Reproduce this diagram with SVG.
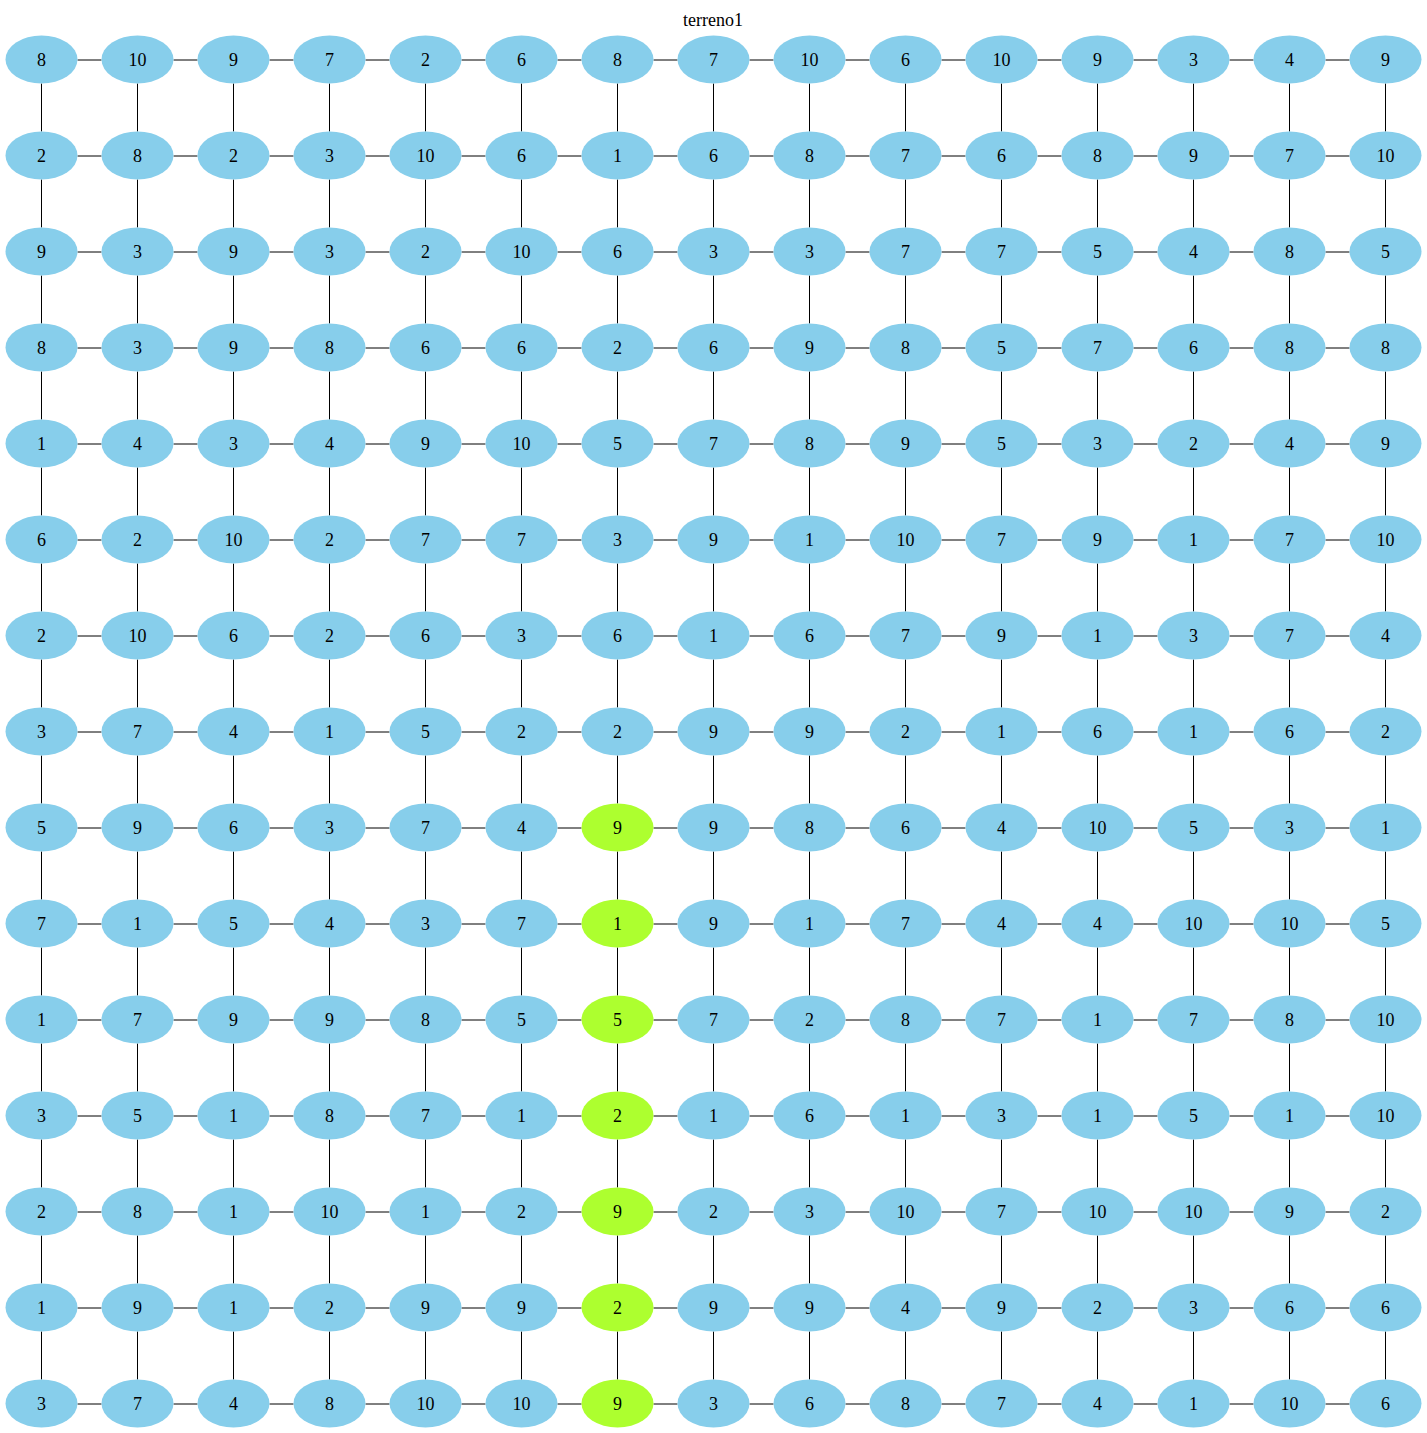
<svg xmlns="http://www.w3.org/2000/svg" width="1427" height="1433" viewBox="0 0 1427 1433">
<style>
.n ellipse{fill:#87CEEB;stroke:none}
.n.g ellipse{fill:#ADFF2F}
text{font-family:"Liberation Serif","Times New Roman",serif;font-size:18px;text-anchor:middle;fill:#000}
.e path{stroke:#000;stroke-width:1;fill:none}
</style>
<rect width="1427" height="1433" fill="#fff"/>
<text id="title" x="713" y="26">terreno1</text>
<g id="edges" class="e">
<path d="M77.5 60h24m72 0h24m72 0h24m72 0h24m72 0h24m72 0h24m72 0h24m72 0h24m72 0h24m72 0h24m72 0h24m72 0h24m72 0h24m72 0h24"/>
<path d="M77.5 156h24m72 0h24m72 0h24m72 0h24m72 0h24m72 0h24m72 0h24m72 0h24m72 0h24m72 0h24m72 0h24m72 0h24m72 0h24m72 0h24"/>
<path d="M77.5 252h24m72 0h24m72 0h24m72 0h24m72 0h24m72 0h24m72 0h24m72 0h24m72 0h24m72 0h24m72 0h24m72 0h24m72 0h24m72 0h24"/>
<path d="M77.5 348h24m72 0h24m72 0h24m72 0h24m72 0h24m72 0h24m72 0h24m72 0h24m72 0h24m72 0h24m72 0h24m72 0h24m72 0h24m72 0h24"/>
<path d="M77.5 444h24m72 0h24m72 0h24m72 0h24m72 0h24m72 0h24m72 0h24m72 0h24m72 0h24m72 0h24m72 0h24m72 0h24m72 0h24m72 0h24"/>
<path d="M77.5 540h24m72 0h24m72 0h24m72 0h24m72 0h24m72 0h24m72 0h24m72 0h24m72 0h24m72 0h24m72 0h24m72 0h24m72 0h24m72 0h24"/>
<path d="M77.5 636h24m72 0h24m72 0h24m72 0h24m72 0h24m72 0h24m72 0h24m72 0h24m72 0h24m72 0h24m72 0h24m72 0h24m72 0h24m72 0h24"/>
<path d="M77.5 732h24m72 0h24m72 0h24m72 0h24m72 0h24m72 0h24m72 0h24m72 0h24m72 0h24m72 0h24m72 0h24m72 0h24m72 0h24m72 0h24"/>
<path d="M77.5 828h24m72 0h24m72 0h24m72 0h24m72 0h24m72 0h24m72 0h24m72 0h24m72 0h24m72 0h24m72 0h24m72 0h24m72 0h24m72 0h24"/>
<path d="M77.5 924h24m72 0h24m72 0h24m72 0h24m72 0h24m72 0h24m72 0h24m72 0h24m72 0h24m72 0h24m72 0h24m72 0h24m72 0h24m72 0h24"/>
<path d="M77.5 1020h24m72 0h24m72 0h24m72 0h24m72 0h24m72 0h24m72 0h24m72 0h24m72 0h24m72 0h24m72 0h24m72 0h24m72 0h24m72 0h24"/>
<path d="M77.5 1116h24m72 0h24m72 0h24m72 0h24m72 0h24m72 0h24m72 0h24m72 0h24m72 0h24m72 0h24m72 0h24m72 0h24m72 0h24m72 0h24"/>
<path d="M77.5 1212h24m72 0h24m72 0h24m72 0h24m72 0h24m72 0h24m72 0h24m72 0h24m72 0h24m72 0h24m72 0h24m72 0h24m72 0h24m72 0h24"/>
<path d="M77.5 1308h24m72 0h24m72 0h24m72 0h24m72 0h24m72 0h24m72 0h24m72 0h24m72 0h24m72 0h24m72 0h24m72 0h24m72 0h24m72 0h24"/>
<path d="M77.5 1404h24m72 0h24m72 0h24m72 0h24m72 0h24m72 0h24m72 0h24m72 0h24m72 0h24m72 0h24m72 0h24m72 0h24m72 0h24m72 0h24"/>
<path d="M41.5 83.5v48m0 48v48m0 48v48m0 48v48m0 48v48m0 48v48m0 48v48m0 48v48m0 48v48m0 48v48m0 48v48m0 48v48m0 48v48m0 48v48"/>
<path d="M137.5 83.5v48m0 48v48m0 48v48m0 48v48m0 48v48m0 48v48m0 48v48m0 48v48m0 48v48m0 48v48m0 48v48m0 48v48m0 48v48m0 48v48"/>
<path d="M233.5 83.5v48m0 48v48m0 48v48m0 48v48m0 48v48m0 48v48m0 48v48m0 48v48m0 48v48m0 48v48m0 48v48m0 48v48m0 48v48m0 48v48"/>
<path d="M329.5 83.5v48m0 48v48m0 48v48m0 48v48m0 48v48m0 48v48m0 48v48m0 48v48m0 48v48m0 48v48m0 48v48m0 48v48m0 48v48m0 48v48"/>
<path d="M425.5 83.5v48m0 48v48m0 48v48m0 48v48m0 48v48m0 48v48m0 48v48m0 48v48m0 48v48m0 48v48m0 48v48m0 48v48m0 48v48m0 48v48"/>
<path d="M521.5 83.5v48m0 48v48m0 48v48m0 48v48m0 48v48m0 48v48m0 48v48m0 48v48m0 48v48m0 48v48m0 48v48m0 48v48m0 48v48m0 48v48"/>
<path d="M617.5 83.5v48m0 48v48m0 48v48m0 48v48m0 48v48m0 48v48m0 48v48m0 48v48m0 48v48m0 48v48m0 48v48m0 48v48m0 48v48m0 48v48"/>
<path d="M713.5 83.5v48m0 48v48m0 48v48m0 48v48m0 48v48m0 48v48m0 48v48m0 48v48m0 48v48m0 48v48m0 48v48m0 48v48m0 48v48m0 48v48"/>
<path d="M809.5 83.5v48m0 48v48m0 48v48m0 48v48m0 48v48m0 48v48m0 48v48m0 48v48m0 48v48m0 48v48m0 48v48m0 48v48m0 48v48m0 48v48"/>
<path d="M905.5 83.5v48m0 48v48m0 48v48m0 48v48m0 48v48m0 48v48m0 48v48m0 48v48m0 48v48m0 48v48m0 48v48m0 48v48m0 48v48m0 48v48"/>
<path d="M1001.5 83.5v48m0 48v48m0 48v48m0 48v48m0 48v48m0 48v48m0 48v48m0 48v48m0 48v48m0 48v48m0 48v48m0 48v48m0 48v48m0 48v48"/>
<path d="M1097.5 83.5v48m0 48v48m0 48v48m0 48v48m0 48v48m0 48v48m0 48v48m0 48v48m0 48v48m0 48v48m0 48v48m0 48v48m0 48v48m0 48v48"/>
<path d="M1193.5 83.5v48m0 48v48m0 48v48m0 48v48m0 48v48m0 48v48m0 48v48m0 48v48m0 48v48m0 48v48m0 48v48m0 48v48m0 48v48m0 48v48"/>
<path d="M1289.5 83.5v48m0 48v48m0 48v48m0 48v48m0 48v48m0 48v48m0 48v48m0 48v48m0 48v48m0 48v48m0 48v48m0 48v48m0 48v48m0 48v48"/>
<path d="M1385.5 83.5v48m0 48v48m0 48v48m0 48v48m0 48v48m0 48v48m0 48v48m0 48v48m0 48v48m0 48v48m0 48v48m0 48v48m0 48v48m0 48v48"/>
</g>
<g id="nodes">
<g id="r0">
<g id="n0_0" class="n" transform="translate(41.5 59.5)"><ellipse rx="36" ry="24"/><text y="6">8</text></g>
<g id="n0_1" class="n" transform="translate(137.5 59.5)"><ellipse rx="36" ry="24"/><text y="6">10</text></g>
<g id="n0_2" class="n" transform="translate(233.5 59.5)"><ellipse rx="36" ry="24"/><text y="6">9</text></g>
<g id="n0_3" class="n" transform="translate(329.5 59.5)"><ellipse rx="36" ry="24"/><text y="6">7</text></g>
<g id="n0_4" class="n" transform="translate(425.5 59.5)"><ellipse rx="36" ry="24"/><text y="6">2</text></g>
<g id="n0_5" class="n" transform="translate(521.5 59.5)"><ellipse rx="36" ry="24"/><text y="6">6</text></g>
<g id="n0_6" class="n" transform="translate(617.5 59.5)"><ellipse rx="36" ry="24"/><text y="6">8</text></g>
<g id="n0_7" class="n" transform="translate(713.5 59.5)"><ellipse rx="36" ry="24"/><text y="6">7</text></g>
<g id="n0_8" class="n" transform="translate(809.5 59.5)"><ellipse rx="36" ry="24"/><text y="6">10</text></g>
<g id="n0_9" class="n" transform="translate(905.5 59.5)"><ellipse rx="36" ry="24"/><text y="6">6</text></g>
<g id="n0_10" class="n" transform="translate(1001.5 59.5)"><ellipse rx="36" ry="24"/><text y="6">10</text></g>
<g id="n0_11" class="n" transform="translate(1097.5 59.5)"><ellipse rx="36" ry="24"/><text y="6">9</text></g>
<g id="n0_12" class="n" transform="translate(1193.5 59.5)"><ellipse rx="36" ry="24"/><text y="6">3</text></g>
<g id="n0_13" class="n" transform="translate(1289.5 59.5)"><ellipse rx="36" ry="24"/><text y="6">4</text></g>
<g id="n0_14" class="n" transform="translate(1385.5 59.5)"><ellipse rx="36" ry="24"/><text y="6">9</text></g>
</g>
<g id="r1">
<g id="n1_0" class="n" transform="translate(41.5 155.5)"><ellipse rx="36" ry="24"/><text y="6">2</text></g>
<g id="n1_1" class="n" transform="translate(137.5 155.5)"><ellipse rx="36" ry="24"/><text y="6">8</text></g>
<g id="n1_2" class="n" transform="translate(233.5 155.5)"><ellipse rx="36" ry="24"/><text y="6">2</text></g>
<g id="n1_3" class="n" transform="translate(329.5 155.5)"><ellipse rx="36" ry="24"/><text y="6">3</text></g>
<g id="n1_4" class="n" transform="translate(425.5 155.5)"><ellipse rx="36" ry="24"/><text y="6">10</text></g>
<g id="n1_5" class="n" transform="translate(521.5 155.5)"><ellipse rx="36" ry="24"/><text y="6">6</text></g>
<g id="n1_6" class="n" transform="translate(617.5 155.5)"><ellipse rx="36" ry="24"/><text y="6">1</text></g>
<g id="n1_7" class="n" transform="translate(713.5 155.5)"><ellipse rx="36" ry="24"/><text y="6">6</text></g>
<g id="n1_8" class="n" transform="translate(809.5 155.5)"><ellipse rx="36" ry="24"/><text y="6">8</text></g>
<g id="n1_9" class="n" transform="translate(905.5 155.5)"><ellipse rx="36" ry="24"/><text y="6">7</text></g>
<g id="n1_10" class="n" transform="translate(1001.5 155.5)"><ellipse rx="36" ry="24"/><text y="6">6</text></g>
<g id="n1_11" class="n" transform="translate(1097.5 155.5)"><ellipse rx="36" ry="24"/><text y="6">8</text></g>
<g id="n1_12" class="n" transform="translate(1193.5 155.5)"><ellipse rx="36" ry="24"/><text y="6">9</text></g>
<g id="n1_13" class="n" transform="translate(1289.5 155.5)"><ellipse rx="36" ry="24"/><text y="6">7</text></g>
<g id="n1_14" class="n" transform="translate(1385.5 155.5)"><ellipse rx="36" ry="24"/><text y="6">10</text></g>
</g>
<g id="r2">
<g id="n2_0" class="n" transform="translate(41.5 251.5)"><ellipse rx="36" ry="24"/><text y="6">9</text></g>
<g id="n2_1" class="n" transform="translate(137.5 251.5)"><ellipse rx="36" ry="24"/><text y="6">3</text></g>
<g id="n2_2" class="n" transform="translate(233.5 251.5)"><ellipse rx="36" ry="24"/><text y="6">9</text></g>
<g id="n2_3" class="n" transform="translate(329.5 251.5)"><ellipse rx="36" ry="24"/><text y="6">3</text></g>
<g id="n2_4" class="n" transform="translate(425.5 251.5)"><ellipse rx="36" ry="24"/><text y="6">2</text></g>
<g id="n2_5" class="n" transform="translate(521.5 251.5)"><ellipse rx="36" ry="24"/><text y="6">10</text></g>
<g id="n2_6" class="n" transform="translate(617.5 251.5)"><ellipse rx="36" ry="24"/><text y="6">6</text></g>
<g id="n2_7" class="n" transform="translate(713.5 251.5)"><ellipse rx="36" ry="24"/><text y="6">3</text></g>
<g id="n2_8" class="n" transform="translate(809.5 251.5)"><ellipse rx="36" ry="24"/><text y="6">3</text></g>
<g id="n2_9" class="n" transform="translate(905.5 251.5)"><ellipse rx="36" ry="24"/><text y="6">7</text></g>
<g id="n2_10" class="n" transform="translate(1001.5 251.5)"><ellipse rx="36" ry="24"/><text y="6">7</text></g>
<g id="n2_11" class="n" transform="translate(1097.5 251.5)"><ellipse rx="36" ry="24"/><text y="6">5</text></g>
<g id="n2_12" class="n" transform="translate(1193.5 251.5)"><ellipse rx="36" ry="24"/><text y="6">4</text></g>
<g id="n2_13" class="n" transform="translate(1289.5 251.5)"><ellipse rx="36" ry="24"/><text y="6">8</text></g>
<g id="n2_14" class="n" transform="translate(1385.5 251.5)"><ellipse rx="36" ry="24"/><text y="6">5</text></g>
</g>
<g id="r3">
<g id="n3_0" class="n" transform="translate(41.5 347.5)"><ellipse rx="36" ry="24"/><text y="6">8</text></g>
<g id="n3_1" class="n" transform="translate(137.5 347.5)"><ellipse rx="36" ry="24"/><text y="6">3</text></g>
<g id="n3_2" class="n" transform="translate(233.5 347.5)"><ellipse rx="36" ry="24"/><text y="6">9</text></g>
<g id="n3_3" class="n" transform="translate(329.5 347.5)"><ellipse rx="36" ry="24"/><text y="6">8</text></g>
<g id="n3_4" class="n" transform="translate(425.5 347.5)"><ellipse rx="36" ry="24"/><text y="6">6</text></g>
<g id="n3_5" class="n" transform="translate(521.5 347.5)"><ellipse rx="36" ry="24"/><text y="6">6</text></g>
<g id="n3_6" class="n" transform="translate(617.5 347.5)"><ellipse rx="36" ry="24"/><text y="6">2</text></g>
<g id="n3_7" class="n" transform="translate(713.5 347.5)"><ellipse rx="36" ry="24"/><text y="6">6</text></g>
<g id="n3_8" class="n" transform="translate(809.5 347.5)"><ellipse rx="36" ry="24"/><text y="6">9</text></g>
<g id="n3_9" class="n" transform="translate(905.5 347.5)"><ellipse rx="36" ry="24"/><text y="6">8</text></g>
<g id="n3_10" class="n" transform="translate(1001.5 347.5)"><ellipse rx="36" ry="24"/><text y="6">5</text></g>
<g id="n3_11" class="n" transform="translate(1097.5 347.5)"><ellipse rx="36" ry="24"/><text y="6">7</text></g>
<g id="n3_12" class="n" transform="translate(1193.5 347.5)"><ellipse rx="36" ry="24"/><text y="6">6</text></g>
<g id="n3_13" class="n" transform="translate(1289.5 347.5)"><ellipse rx="36" ry="24"/><text y="6">8</text></g>
<g id="n3_14" class="n" transform="translate(1385.5 347.5)"><ellipse rx="36" ry="24"/><text y="6">8</text></g>
</g>
<g id="r4">
<g id="n4_0" class="n" transform="translate(41.5 443.5)"><ellipse rx="36" ry="24"/><text y="6">1</text></g>
<g id="n4_1" class="n" transform="translate(137.5 443.5)"><ellipse rx="36" ry="24"/><text y="6">4</text></g>
<g id="n4_2" class="n" transform="translate(233.5 443.5)"><ellipse rx="36" ry="24"/><text y="6">3</text></g>
<g id="n4_3" class="n" transform="translate(329.5 443.5)"><ellipse rx="36" ry="24"/><text y="6">4</text></g>
<g id="n4_4" class="n" transform="translate(425.5 443.5)"><ellipse rx="36" ry="24"/><text y="6">9</text></g>
<g id="n4_5" class="n" transform="translate(521.5 443.5)"><ellipse rx="36" ry="24"/><text y="6">10</text></g>
<g id="n4_6" class="n" transform="translate(617.5 443.5)"><ellipse rx="36" ry="24"/><text y="6">5</text></g>
<g id="n4_7" class="n" transform="translate(713.5 443.5)"><ellipse rx="36" ry="24"/><text y="6">7</text></g>
<g id="n4_8" class="n" transform="translate(809.5 443.5)"><ellipse rx="36" ry="24"/><text y="6">8</text></g>
<g id="n4_9" class="n" transform="translate(905.5 443.5)"><ellipse rx="36" ry="24"/><text y="6">9</text></g>
<g id="n4_10" class="n" transform="translate(1001.5 443.5)"><ellipse rx="36" ry="24"/><text y="6">5</text></g>
<g id="n4_11" class="n" transform="translate(1097.5 443.5)"><ellipse rx="36" ry="24"/><text y="6">3</text></g>
<g id="n4_12" class="n" transform="translate(1193.5 443.5)"><ellipse rx="36" ry="24"/><text y="6">2</text></g>
<g id="n4_13" class="n" transform="translate(1289.5 443.5)"><ellipse rx="36" ry="24"/><text y="6">4</text></g>
<g id="n4_14" class="n" transform="translate(1385.5 443.5)"><ellipse rx="36" ry="24"/><text y="6">9</text></g>
</g>
<g id="r5">
<g id="n5_0" class="n" transform="translate(41.5 539.5)"><ellipse rx="36" ry="24"/><text y="6">6</text></g>
<g id="n5_1" class="n" transform="translate(137.5 539.5)"><ellipse rx="36" ry="24"/><text y="6">2</text></g>
<g id="n5_2" class="n" transform="translate(233.5 539.5)"><ellipse rx="36" ry="24"/><text y="6">10</text></g>
<g id="n5_3" class="n" transform="translate(329.5 539.5)"><ellipse rx="36" ry="24"/><text y="6">2</text></g>
<g id="n5_4" class="n" transform="translate(425.5 539.5)"><ellipse rx="36" ry="24"/><text y="6">7</text></g>
<g id="n5_5" class="n" transform="translate(521.5 539.5)"><ellipse rx="36" ry="24"/><text y="6">7</text></g>
<g id="n5_6" class="n" transform="translate(617.5 539.5)"><ellipse rx="36" ry="24"/><text y="6">3</text></g>
<g id="n5_7" class="n" transform="translate(713.5 539.5)"><ellipse rx="36" ry="24"/><text y="6">9</text></g>
<g id="n5_8" class="n" transform="translate(809.5 539.5)"><ellipse rx="36" ry="24"/><text y="6">1</text></g>
<g id="n5_9" class="n" transform="translate(905.5 539.5)"><ellipse rx="36" ry="24"/><text y="6">10</text></g>
<g id="n5_10" class="n" transform="translate(1001.5 539.5)"><ellipse rx="36" ry="24"/><text y="6">7</text></g>
<g id="n5_11" class="n" transform="translate(1097.5 539.5)"><ellipse rx="36" ry="24"/><text y="6">9</text></g>
<g id="n5_12" class="n" transform="translate(1193.5 539.5)"><ellipse rx="36" ry="24"/><text y="6">1</text></g>
<g id="n5_13" class="n" transform="translate(1289.5 539.5)"><ellipse rx="36" ry="24"/><text y="6">7</text></g>
<g id="n5_14" class="n" transform="translate(1385.5 539.5)"><ellipse rx="36" ry="24"/><text y="6">10</text></g>
</g>
<g id="r6">
<g id="n6_0" class="n" transform="translate(41.5 635.5)"><ellipse rx="36" ry="24"/><text y="6">2</text></g>
<g id="n6_1" class="n" transform="translate(137.5 635.5)"><ellipse rx="36" ry="24"/><text y="6">10</text></g>
<g id="n6_2" class="n" transform="translate(233.5 635.5)"><ellipse rx="36" ry="24"/><text y="6">6</text></g>
<g id="n6_3" class="n" transform="translate(329.5 635.5)"><ellipse rx="36" ry="24"/><text y="6">2</text></g>
<g id="n6_4" class="n" transform="translate(425.5 635.5)"><ellipse rx="36" ry="24"/><text y="6">6</text></g>
<g id="n6_5" class="n" transform="translate(521.5 635.5)"><ellipse rx="36" ry="24"/><text y="6">3</text></g>
<g id="n6_6" class="n" transform="translate(617.5 635.5)"><ellipse rx="36" ry="24"/><text y="6">6</text></g>
<g id="n6_7" class="n" transform="translate(713.5 635.5)"><ellipse rx="36" ry="24"/><text y="6">1</text></g>
<g id="n6_8" class="n" transform="translate(809.5 635.5)"><ellipse rx="36" ry="24"/><text y="6">6</text></g>
<g id="n6_9" class="n" transform="translate(905.5 635.5)"><ellipse rx="36" ry="24"/><text y="6">7</text></g>
<g id="n6_10" class="n" transform="translate(1001.5 635.5)"><ellipse rx="36" ry="24"/><text y="6">9</text></g>
<g id="n6_11" class="n" transform="translate(1097.5 635.5)"><ellipse rx="36" ry="24"/><text y="6">1</text></g>
<g id="n6_12" class="n" transform="translate(1193.5 635.5)"><ellipse rx="36" ry="24"/><text y="6">3</text></g>
<g id="n6_13" class="n" transform="translate(1289.5 635.5)"><ellipse rx="36" ry="24"/><text y="6">7</text></g>
<g id="n6_14" class="n" transform="translate(1385.5 635.5)"><ellipse rx="36" ry="24"/><text y="6">4</text></g>
</g>
<g id="r7">
<g id="n7_0" class="n" transform="translate(41.5 731.5)"><ellipse rx="36" ry="24"/><text y="6">3</text></g>
<g id="n7_1" class="n" transform="translate(137.5 731.5)"><ellipse rx="36" ry="24"/><text y="6">7</text></g>
<g id="n7_2" class="n" transform="translate(233.5 731.5)"><ellipse rx="36" ry="24"/><text y="6">4</text></g>
<g id="n7_3" class="n" transform="translate(329.5 731.5)"><ellipse rx="36" ry="24"/><text y="6">1</text></g>
<g id="n7_4" class="n" transform="translate(425.5 731.5)"><ellipse rx="36" ry="24"/><text y="6">5</text></g>
<g id="n7_5" class="n" transform="translate(521.5 731.5)"><ellipse rx="36" ry="24"/><text y="6">2</text></g>
<g id="n7_6" class="n" transform="translate(617.5 731.5)"><ellipse rx="36" ry="24"/><text y="6">2</text></g>
<g id="n7_7" class="n" transform="translate(713.5 731.5)"><ellipse rx="36" ry="24"/><text y="6">9</text></g>
<g id="n7_8" class="n" transform="translate(809.5 731.5)"><ellipse rx="36" ry="24"/><text y="6">9</text></g>
<g id="n7_9" class="n" transform="translate(905.5 731.5)"><ellipse rx="36" ry="24"/><text y="6">2</text></g>
<g id="n7_10" class="n" transform="translate(1001.5 731.5)"><ellipse rx="36" ry="24"/><text y="6">1</text></g>
<g id="n7_11" class="n" transform="translate(1097.5 731.5)"><ellipse rx="36" ry="24"/><text y="6">6</text></g>
<g id="n7_12" class="n" transform="translate(1193.5 731.5)"><ellipse rx="36" ry="24"/><text y="6">1</text></g>
<g id="n7_13" class="n" transform="translate(1289.5 731.5)"><ellipse rx="36" ry="24"/><text y="6">6</text></g>
<g id="n7_14" class="n" transform="translate(1385.5 731.5)"><ellipse rx="36" ry="24"/><text y="6">2</text></g>
</g>
<g id="r8">
<g id="n8_0" class="n" transform="translate(41.5 827.5)"><ellipse rx="36" ry="24"/><text y="6">5</text></g>
<g id="n8_1" class="n" transform="translate(137.5 827.5)"><ellipse rx="36" ry="24"/><text y="6">9</text></g>
<g id="n8_2" class="n" transform="translate(233.5 827.5)"><ellipse rx="36" ry="24"/><text y="6">6</text></g>
<g id="n8_3" class="n" transform="translate(329.5 827.5)"><ellipse rx="36" ry="24"/><text y="6">3</text></g>
<g id="n8_4" class="n" transform="translate(425.5 827.5)"><ellipse rx="36" ry="24"/><text y="6">7</text></g>
<g id="n8_5" class="n" transform="translate(521.5 827.5)"><ellipse rx="36" ry="24"/><text y="6">4</text></g>
<g id="n8_6" class="n g" transform="translate(617.5 827.5)"><ellipse rx="36" ry="24"/><text y="6">9</text></g>
<g id="n8_7" class="n" transform="translate(713.5 827.5)"><ellipse rx="36" ry="24"/><text y="6">9</text></g>
<g id="n8_8" class="n" transform="translate(809.5 827.5)"><ellipse rx="36" ry="24"/><text y="6">8</text></g>
<g id="n8_9" class="n" transform="translate(905.5 827.5)"><ellipse rx="36" ry="24"/><text y="6">6</text></g>
<g id="n8_10" class="n" transform="translate(1001.5 827.5)"><ellipse rx="36" ry="24"/><text y="6">4</text></g>
<g id="n8_11" class="n" transform="translate(1097.5 827.5)"><ellipse rx="36" ry="24"/><text y="6">10</text></g>
<g id="n8_12" class="n" transform="translate(1193.5 827.5)"><ellipse rx="36" ry="24"/><text y="6">5</text></g>
<g id="n8_13" class="n" transform="translate(1289.5 827.5)"><ellipse rx="36" ry="24"/><text y="6">3</text></g>
<g id="n8_14" class="n" transform="translate(1385.5 827.5)"><ellipse rx="36" ry="24"/><text y="6">1</text></g>
</g>
<g id="r9">
<g id="n9_0" class="n" transform="translate(41.5 923.5)"><ellipse rx="36" ry="24"/><text y="6">7</text></g>
<g id="n9_1" class="n" transform="translate(137.5 923.5)"><ellipse rx="36" ry="24"/><text y="6">1</text></g>
<g id="n9_2" class="n" transform="translate(233.5 923.5)"><ellipse rx="36" ry="24"/><text y="6">5</text></g>
<g id="n9_3" class="n" transform="translate(329.5 923.5)"><ellipse rx="36" ry="24"/><text y="6">4</text></g>
<g id="n9_4" class="n" transform="translate(425.5 923.5)"><ellipse rx="36" ry="24"/><text y="6">3</text></g>
<g id="n9_5" class="n" transform="translate(521.5 923.5)"><ellipse rx="36" ry="24"/><text y="6">7</text></g>
<g id="n9_6" class="n g" transform="translate(617.5 923.5)"><ellipse rx="36" ry="24"/><text y="6">1</text></g>
<g id="n9_7" class="n" transform="translate(713.5 923.5)"><ellipse rx="36" ry="24"/><text y="6">9</text></g>
<g id="n9_8" class="n" transform="translate(809.5 923.5)"><ellipse rx="36" ry="24"/><text y="6">1</text></g>
<g id="n9_9" class="n" transform="translate(905.5 923.5)"><ellipse rx="36" ry="24"/><text y="6">7</text></g>
<g id="n9_10" class="n" transform="translate(1001.5 923.5)"><ellipse rx="36" ry="24"/><text y="6">4</text></g>
<g id="n9_11" class="n" transform="translate(1097.5 923.5)"><ellipse rx="36" ry="24"/><text y="6">4</text></g>
<g id="n9_12" class="n" transform="translate(1193.5 923.5)"><ellipse rx="36" ry="24"/><text y="6">10</text></g>
<g id="n9_13" class="n" transform="translate(1289.5 923.5)"><ellipse rx="36" ry="24"/><text y="6">10</text></g>
<g id="n9_14" class="n" transform="translate(1385.5 923.5)"><ellipse rx="36" ry="24"/><text y="6">5</text></g>
</g>
<g id="r10">
<g id="n10_0" class="n" transform="translate(41.5 1019.5)"><ellipse rx="36" ry="24"/><text y="6">1</text></g>
<g id="n10_1" class="n" transform="translate(137.5 1019.5)"><ellipse rx="36" ry="24"/><text y="6">7</text></g>
<g id="n10_2" class="n" transform="translate(233.5 1019.5)"><ellipse rx="36" ry="24"/><text y="6">9</text></g>
<g id="n10_3" class="n" transform="translate(329.5 1019.5)"><ellipse rx="36" ry="24"/><text y="6">9</text></g>
<g id="n10_4" class="n" transform="translate(425.5 1019.5)"><ellipse rx="36" ry="24"/><text y="6">8</text></g>
<g id="n10_5" class="n" transform="translate(521.5 1019.5)"><ellipse rx="36" ry="24"/><text y="6">5</text></g>
<g id="n10_6" class="n g" transform="translate(617.5 1019.5)"><ellipse rx="36" ry="24"/><text y="6">5</text></g>
<g id="n10_7" class="n" transform="translate(713.5 1019.5)"><ellipse rx="36" ry="24"/><text y="6">7</text></g>
<g id="n10_8" class="n" transform="translate(809.5 1019.5)"><ellipse rx="36" ry="24"/><text y="6">2</text></g>
<g id="n10_9" class="n" transform="translate(905.5 1019.5)"><ellipse rx="36" ry="24"/><text y="6">8</text></g>
<g id="n10_10" class="n" transform="translate(1001.5 1019.5)"><ellipse rx="36" ry="24"/><text y="6">7</text></g>
<g id="n10_11" class="n" transform="translate(1097.5 1019.5)"><ellipse rx="36" ry="24"/><text y="6">1</text></g>
<g id="n10_12" class="n" transform="translate(1193.5 1019.5)"><ellipse rx="36" ry="24"/><text y="6">7</text></g>
<g id="n10_13" class="n" transform="translate(1289.5 1019.5)"><ellipse rx="36" ry="24"/><text y="6">8</text></g>
<g id="n10_14" class="n" transform="translate(1385.5 1019.5)"><ellipse rx="36" ry="24"/><text y="6">10</text></g>
</g>
<g id="r11">
<g id="n11_0" class="n" transform="translate(41.5 1115.5)"><ellipse rx="36" ry="24"/><text y="6">3</text></g>
<g id="n11_1" class="n" transform="translate(137.5 1115.5)"><ellipse rx="36" ry="24"/><text y="6">5</text></g>
<g id="n11_2" class="n" transform="translate(233.5 1115.5)"><ellipse rx="36" ry="24"/><text y="6">1</text></g>
<g id="n11_3" class="n" transform="translate(329.5 1115.5)"><ellipse rx="36" ry="24"/><text y="6">8</text></g>
<g id="n11_4" class="n" transform="translate(425.5 1115.5)"><ellipse rx="36" ry="24"/><text y="6">7</text></g>
<g id="n11_5" class="n" transform="translate(521.5 1115.5)"><ellipse rx="36" ry="24"/><text y="6">1</text></g>
<g id="n11_6" class="n g" transform="translate(617.5 1115.5)"><ellipse rx="36" ry="24"/><text y="6">2</text></g>
<g id="n11_7" class="n" transform="translate(713.5 1115.5)"><ellipse rx="36" ry="24"/><text y="6">1</text></g>
<g id="n11_8" class="n" transform="translate(809.5 1115.5)"><ellipse rx="36" ry="24"/><text y="6">6</text></g>
<g id="n11_9" class="n" transform="translate(905.5 1115.5)"><ellipse rx="36" ry="24"/><text y="6">1</text></g>
<g id="n11_10" class="n" transform="translate(1001.5 1115.5)"><ellipse rx="36" ry="24"/><text y="6">3</text></g>
<g id="n11_11" class="n" transform="translate(1097.5 1115.5)"><ellipse rx="36" ry="24"/><text y="6">1</text></g>
<g id="n11_12" class="n" transform="translate(1193.5 1115.5)"><ellipse rx="36" ry="24"/><text y="6">5</text></g>
<g id="n11_13" class="n" transform="translate(1289.5 1115.5)"><ellipse rx="36" ry="24"/><text y="6">1</text></g>
<g id="n11_14" class="n" transform="translate(1385.5 1115.5)"><ellipse rx="36" ry="24"/><text y="6">10</text></g>
</g>
<g id="r12">
<g id="n12_0" class="n" transform="translate(41.5 1211.5)"><ellipse rx="36" ry="24"/><text y="6">2</text></g>
<g id="n12_1" class="n" transform="translate(137.5 1211.5)"><ellipse rx="36" ry="24"/><text y="6">8</text></g>
<g id="n12_2" class="n" transform="translate(233.5 1211.5)"><ellipse rx="36" ry="24"/><text y="6">1</text></g>
<g id="n12_3" class="n" transform="translate(329.5 1211.5)"><ellipse rx="36" ry="24"/><text y="6">10</text></g>
<g id="n12_4" class="n" transform="translate(425.5 1211.5)"><ellipse rx="36" ry="24"/><text y="6">1</text></g>
<g id="n12_5" class="n" transform="translate(521.5 1211.5)"><ellipse rx="36" ry="24"/><text y="6">2</text></g>
<g id="n12_6" class="n g" transform="translate(617.5 1211.5)"><ellipse rx="36" ry="24"/><text y="6">9</text></g>
<g id="n12_7" class="n" transform="translate(713.5 1211.5)"><ellipse rx="36" ry="24"/><text y="6">2</text></g>
<g id="n12_8" class="n" transform="translate(809.5 1211.5)"><ellipse rx="36" ry="24"/><text y="6">3</text></g>
<g id="n12_9" class="n" transform="translate(905.5 1211.5)"><ellipse rx="36" ry="24"/><text y="6">10</text></g>
<g id="n12_10" class="n" transform="translate(1001.5 1211.5)"><ellipse rx="36" ry="24"/><text y="6">7</text></g>
<g id="n12_11" class="n" transform="translate(1097.5 1211.5)"><ellipse rx="36" ry="24"/><text y="6">10</text></g>
<g id="n12_12" class="n" transform="translate(1193.5 1211.5)"><ellipse rx="36" ry="24"/><text y="6">10</text></g>
<g id="n12_13" class="n" transform="translate(1289.5 1211.5)"><ellipse rx="36" ry="24"/><text y="6">9</text></g>
<g id="n12_14" class="n" transform="translate(1385.5 1211.5)"><ellipse rx="36" ry="24"/><text y="6">2</text></g>
</g>
<g id="r13">
<g id="n13_0" class="n" transform="translate(41.5 1307.5)"><ellipse rx="36" ry="24"/><text y="6">1</text></g>
<g id="n13_1" class="n" transform="translate(137.5 1307.5)"><ellipse rx="36" ry="24"/><text y="6">9</text></g>
<g id="n13_2" class="n" transform="translate(233.5 1307.5)"><ellipse rx="36" ry="24"/><text y="6">1</text></g>
<g id="n13_3" class="n" transform="translate(329.5 1307.5)"><ellipse rx="36" ry="24"/><text y="6">2</text></g>
<g id="n13_4" class="n" transform="translate(425.5 1307.5)"><ellipse rx="36" ry="24"/><text y="6">9</text></g>
<g id="n13_5" class="n" transform="translate(521.5 1307.5)"><ellipse rx="36" ry="24"/><text y="6">9</text></g>
<g id="n13_6" class="n g" transform="translate(617.5 1307.5)"><ellipse rx="36" ry="24"/><text y="6">2</text></g>
<g id="n13_7" class="n" transform="translate(713.5 1307.5)"><ellipse rx="36" ry="24"/><text y="6">9</text></g>
<g id="n13_8" class="n" transform="translate(809.5 1307.5)"><ellipse rx="36" ry="24"/><text y="6">9</text></g>
<g id="n13_9" class="n" transform="translate(905.5 1307.5)"><ellipse rx="36" ry="24"/><text y="6">4</text></g>
<g id="n13_10" class="n" transform="translate(1001.5 1307.5)"><ellipse rx="36" ry="24"/><text y="6">9</text></g>
<g id="n13_11" class="n" transform="translate(1097.5 1307.5)"><ellipse rx="36" ry="24"/><text y="6">2</text></g>
<g id="n13_12" class="n" transform="translate(1193.5 1307.5)"><ellipse rx="36" ry="24"/><text y="6">3</text></g>
<g id="n13_13" class="n" transform="translate(1289.5 1307.5)"><ellipse rx="36" ry="24"/><text y="6">6</text></g>
<g id="n13_14" class="n" transform="translate(1385.5 1307.5)"><ellipse rx="36" ry="24"/><text y="6">6</text></g>
</g>
<g id="r14">
<g id="n14_0" class="n" transform="translate(41.5 1403.5)"><ellipse rx="36" ry="24"/><text y="6">3</text></g>
<g id="n14_1" class="n" transform="translate(137.5 1403.5)"><ellipse rx="36" ry="24"/><text y="6">7</text></g>
<g id="n14_2" class="n" transform="translate(233.5 1403.5)"><ellipse rx="36" ry="24"/><text y="6">4</text></g>
<g id="n14_3" class="n" transform="translate(329.5 1403.5)"><ellipse rx="36" ry="24"/><text y="6">8</text></g>
<g id="n14_4" class="n" transform="translate(425.5 1403.5)"><ellipse rx="36" ry="24"/><text y="6">10</text></g>
<g id="n14_5" class="n" transform="translate(521.5 1403.5)"><ellipse rx="36" ry="24"/><text y="6">10</text></g>
<g id="n14_6" class="n g" transform="translate(617.5 1403.5)"><ellipse rx="36" ry="24"/><text y="6">9</text></g>
<g id="n14_7" class="n" transform="translate(713.5 1403.5)"><ellipse rx="36" ry="24"/><text y="6">3</text></g>
<g id="n14_8" class="n" transform="translate(809.5 1403.5)"><ellipse rx="36" ry="24"/><text y="6">6</text></g>
<g id="n14_9" class="n" transform="translate(905.5 1403.5)"><ellipse rx="36" ry="24"/><text y="6">8</text></g>
<g id="n14_10" class="n" transform="translate(1001.5 1403.5)"><ellipse rx="36" ry="24"/><text y="6">7</text></g>
<g id="n14_11" class="n" transform="translate(1097.5 1403.5)"><ellipse rx="36" ry="24"/><text y="6">4</text></g>
<g id="n14_12" class="n" transform="translate(1193.5 1403.5)"><ellipse rx="36" ry="24"/><text y="6">1</text></g>
<g id="n14_13" class="n" transform="translate(1289.5 1403.5)"><ellipse rx="36" ry="24"/><text y="6">10</text></g>
<g id="n14_14" class="n" transform="translate(1385.5 1403.5)"><ellipse rx="36" ry="24"/><text y="6">6</text></g>
</g>
</g>
</svg>
